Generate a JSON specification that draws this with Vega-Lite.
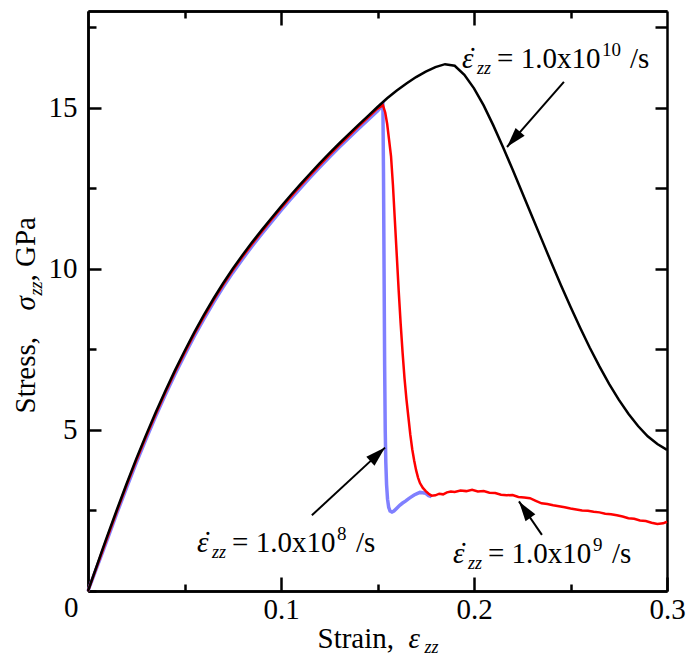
{
"$schema": "https://vega.github.io/schema/vega-lite/v6.json",
"width": 579, "height": 580,
"autosize": {"type": "none"},
"padding": {"left": 88, "top": 11, "right": 19, "bottom": 65},
"datasets": {
"curves": [
{"rate":"1e8","strain":0,"stress":0},{"rate":"1e8","strain":0.0025,"stress":0.4},{"rate":"1e8","strain":0.005,"stress":0.8},{"rate":"1e8","strain":0.0075,"stress":1.2},{"rate":"1e8","strain":0.01,"stress":1.6},{"rate":"1e8","strain":0.015,"stress":2.42},{"rate":"1e8","strain":0.02,"stress":3.21},{"rate":"1e8","strain":0.025,"stress":3.98},{"rate":"1e8","strain":0.03,"stress":4.71},{"rate":"1e8","strain":0.035,"stress":5.41},{"rate":"1e8","strain":0.04,"stress":6.08},{"rate":"1e8","strain":0.045,"stress":6.72},{"rate":"1e8","strain":0.05,"stress":7.32},{"rate":"1e8","strain":0.055,"stress":7.9},{"rate":"1e8","strain":0.06,"stress":8.44},{"rate":"1e8","strain":0.065,"stress":8.95},{"rate":"1e8","strain":0.07,"stress":9.43},{"rate":"1e8","strain":0.075,"stress":9.88},{"rate":"1e8","strain":0.08,"stress":10.3},{"rate":"1e8","strain":0.085,"stress":10.7},{"rate":"1e8","strain":0.09,"stress":11.08},{"rate":"1e8","strain":0.095,"stress":11.45},{"rate":"1e8","strain":0.1,"stress":11.81},{"rate":"1e8","strain":0.105,"stress":12.16},{"rate":"1e8","strain":0.11,"stress":12.5},{"rate":"1e8","strain":0.115,"stress":12.83},{"rate":"1e8","strain":0.12,"stress":13.15},{"rate":"1e8","strain":0.125,"stress":13.46},{"rate":"1e8","strain":0.13,"stress":13.76},{"rate":"1e8","strain":0.135,"stress":14.05},{"rate":"1e8","strain":0.14,"stress":14.34},{"rate":"1e8","strain":0.145,"stress":14.62},{"rate":"1e8","strain":0.15,"stress":14.9},{"rate":"1e8","strain":0.1528,"stress":15.08},{"rate":"1e8","strain":0.1531,"stress":13.0},{"rate":"1e8","strain":0.1534,"stress":10.0},{"rate":"1e8","strain":0.1537,"stress":7.0},{"rate":"1e8","strain":0.154,"stress":5.0},{"rate":"1e8","strain":0.1543,"stress":4.0},{"rate":"1e8","strain":0.1547,"stress":3.3},{"rate":"1e8","strain":0.1552,"stress":2.85},{"rate":"1e8","strain":0.1558,"stress":2.6},{"rate":"1e8","strain":0.1565,"stress":2.48},{"rate":"1e8","strain":0.1575,"stress":2.45},{"rate":"1e8","strain":0.1585,"stress":2.48},{"rate":"1e8","strain":0.16,"stress":2.57},{"rate":"1e8","strain":0.1615,"stress":2.66},{"rate":"1e8","strain":0.163,"stress":2.73},{"rate":"1e8","strain":0.1645,"stress":2.79},{"rate":"1e8","strain":0.166,"stress":2.86},{"rate":"1e8","strain":0.1675,"stress":2.92},{"rate":"1e8","strain":0.169,"stress":2.98},{"rate":"1e8","strain":0.1705,"stress":3.02},{"rate":"1e8","strain":0.172,"stress":3.06},{"rate":"1e8","strain":0.1735,"stress":3.05},{"rate":"1e8","strain":0.175,"stress":3.03},{"rate":"1e8","strain":0.1765,"stress":2.96},{"rate":"1e8","strain":0.178,"stress":2.93},
{"rate":"1e9","strain":0,"stress":0},{"rate":"1e9","strain":0.005,"stress":0.83},{"rate":"1e9","strain":0.01,"stress":1.66},{"rate":"1e9","strain":0.015,"stress":2.48},{"rate":"1e9","strain":0.02,"stress":3.28},{"rate":"1e9","strain":0.025,"stress":4.05},{"rate":"1e9","strain":0.03,"stress":4.78},{"rate":"1e9","strain":0.035,"stress":5.48},{"rate":"1e9","strain":0.04,"stress":6.15},{"rate":"1e9","strain":0.045,"stress":6.79},{"rate":"1e9","strain":0.05,"stress":7.39},{"rate":"1e9","strain":0.055,"stress":7.97},{"rate":"1e9","strain":0.06,"stress":8.51},{"rate":"1e9","strain":0.065,"stress":9.02},{"rate":"1e9","strain":0.07,"stress":9.5},{"rate":"1e9","strain":0.075,"stress":9.95},{"rate":"1e9","strain":0.08,"stress":10.37},{"rate":"1e9","strain":0.085,"stress":10.77},{"rate":"1e9","strain":0.09,"stress":11.15},{"rate":"1e9","strain":0.095,"stress":11.52},{"rate":"1e9","strain":0.1,"stress":11.88},{"rate":"1e9","strain":0.105,"stress":12.23},{"rate":"1e9","strain":0.11,"stress":12.57},{"rate":"1e9","strain":0.115,"stress":12.9},{"rate":"1e9","strain":0.12,"stress":13.22},{"rate":"1e9","strain":0.125,"stress":13.53},{"rate":"1e9","strain":0.13,"stress":13.83},{"rate":"1e9","strain":0.135,"stress":14.12},{"rate":"1e9","strain":0.14,"stress":14.41},{"rate":"1e9","strain":0.145,"stress":14.69},{"rate":"1e9","strain":0.15,"stress":14.97},{"rate":"1e9","strain":0.1528,"stress":15.08},{"rate":"1e9","strain":0.154,"stress":14.85},{"rate":"1e9","strain":0.155,"stress":14.5},{"rate":"1e9","strain":0.156,"stress":14.0},{"rate":"1e9","strain":0.157,"stress":13.5},{"rate":"1e9","strain":0.158,"stress":12.6},{"rate":"1e9","strain":0.159,"stress":11.5},{"rate":"1e9","strain":0.16,"stress":10.4},{"rate":"1e9","strain":0.161,"stress":9.3},{"rate":"1e9","strain":0.162,"stress":8.3},{"rate":"1e9","strain":0.163,"stress":7.4},{"rate":"1e9","strain":0.164,"stress":6.6},{"rate":"1e9","strain":0.165,"stress":5.95},{"rate":"1e9","strain":0.166,"stress":5.4},{"rate":"1e9","strain":0.167,"stress":4.85},{"rate":"1e9","strain":0.168,"stress":4.4},{"rate":"1e9","strain":0.169,"stress":4.05},{"rate":"1e9","strain":0.17,"stress":3.75},{"rate":"1e9","strain":0.171,"stress":3.52},{"rate":"1e9","strain":0.172,"stress":3.35},{"rate":"1e9","strain":0.1735,"stress":3.2},{"rate":"1e9","strain":0.175,"stress":3.1},{"rate":"1e9","strain":0.1765,"stress":3.02},{"rate":"1e9","strain":0.178,"stress":2.96},{"rate":"1e9","strain":0.18,"stress":2.97},{"rate":"1e9","strain":0.182,"stress":3.02},{"rate":"1e9","strain":0.184,"stress":3.0},{"rate":"1e9","strain":0.186,"stress":3.06},{"rate":"1e9","strain":0.188,"stress":3.09},{"rate":"1e9","strain":0.19,"stress":3.07},{"rate":"1e9","strain":0.193,"stress":3.12},{"rate":"1e9","strain":0.196,"stress":3.1},{"rate":"1e9","strain":0.199,"stress":3.14},{"rate":"1e9","strain":0.202,"stress":3.09},{"rate":"1e9","strain":0.205,"stress":3.1},{"rate":"1e9","strain":0.208,"stress":3.05},{"rate":"1e9","strain":0.211,"stress":3.04},{"rate":"1e9","strain":0.214,"stress":2.99},{"rate":"1e9","strain":0.217,"stress":2.97},{"rate":"1e9","strain":0.22,"stress":2.98},{"rate":"1e9","strain":0.223,"stress":2.92},{"rate":"1e9","strain":0.226,"stress":2.9},{"rate":"1e9","strain":0.229,"stress":2.88},{"rate":"1e9","strain":0.232,"stress":2.8},{"rate":"1e9","strain":0.235,"stress":2.72},{"rate":"1e9","strain":0.238,"stress":2.7},{"rate":"1e9","strain":0.241,"stress":2.66},{"rate":"1e9","strain":0.244,"stress":2.63},{"rate":"1e9","strain":0.247,"stress":2.6},{"rate":"1e9","strain":0.25,"stress":2.56},{"rate":"1e9","strain":0.253,"stress":2.53},{"rate":"1e9","strain":0.256,"stress":2.5},{"rate":"1e9","strain":0.259,"stress":2.49},{"rate":"1e9","strain":0.262,"stress":2.46},{"rate":"1e9","strain":0.265,"stress":2.44},{"rate":"1e9","strain":0.268,"stress":2.4},{"rate":"1e9","strain":0.271,"stress":2.38},{"rate":"1e9","strain":0.274,"stress":2.35},{"rate":"1e9","strain":0.277,"stress":2.31},{"rate":"1e9","strain":0.28,"stress":2.26},{"rate":"1e9","strain":0.283,"stress":2.24},{"rate":"1e9","strain":0.286,"stress":2.19},{"rate":"1e9","strain":0.289,"stress":2.17},{"rate":"1e9","strain":0.292,"stress":2.12},{"rate":"1e9","strain":0.295,"stress":2.08},{"rate":"1e9","strain":0.298,"stress":2.1},{"rate":"1e9","strain":0.3,"stress":2.15},
{"rate":"1e10","strain":0,"stress":0},{"rate":"1e10","strain":0.0025,"stress":0.43},{"rate":"1e10","strain":0.005,"stress":0.86},{"rate":"1e10","strain":0.0075,"stress":1.29},{"rate":"1e10","strain":0.01,"stress":1.71},{"rate":"1e10","strain":0.015,"stress":2.53},{"rate":"1e10","strain":0.02,"stress":3.33},{"rate":"1e10","strain":0.025,"stress":4.1},{"rate":"1e10","strain":0.03,"stress":4.83},{"rate":"1e10","strain":0.035,"stress":5.53},{"rate":"1e10","strain":0.04,"stress":6.2},{"rate":"1e10","strain":0.045,"stress":6.84},{"rate":"1e10","strain":0.05,"stress":7.44},{"rate":"1e10","strain":0.055,"stress":8.02},{"rate":"1e10","strain":0.06,"stress":8.56},{"rate":"1e10","strain":0.065,"stress":9.07},{"rate":"1e10","strain":0.07,"stress":9.55},{"rate":"1e10","strain":0.075,"stress":10.0},{"rate":"1e10","strain":0.08,"stress":10.42},{"rate":"1e10","strain":0.085,"stress":10.82},{"rate":"1e10","strain":0.09,"stress":11.2},{"rate":"1e10","strain":0.095,"stress":11.57},{"rate":"1e10","strain":0.1,"stress":11.93},{"rate":"1e10","strain":0.105,"stress":12.28},{"rate":"1e10","strain":0.11,"stress":12.62},{"rate":"1e10","strain":0.115,"stress":12.95},{"rate":"1e10","strain":0.12,"stress":13.27},{"rate":"1e10","strain":0.125,"stress":13.58},{"rate":"1e10","strain":0.13,"stress":13.88},{"rate":"1e10","strain":0.135,"stress":14.17},{"rate":"1e10","strain":0.14,"stress":14.46},{"rate":"1e10","strain":0.145,"stress":14.74},{"rate":"1e10","strain":0.15,"stress":15.02},{"rate":"1e10","strain":0.155,"stress":15.29},{"rate":"1e10","strain":0.16,"stress":15.53},{"rate":"1e10","strain":0.165,"stress":15.75},{"rate":"1e10","strain":0.17,"stress":15.95},{"rate":"1e10","strain":0.175,"stress":16.12},{"rate":"1e10","strain":0.18,"stress":16.26},{"rate":"1e10","strain":0.185,"stress":16.35},{"rate":"1e10","strain":0.19,"stress":16.3},{"rate":"1e10","strain":0.195,"stress":16.02},{"rate":"1e10","strain":0.2,"stress":15.6},{"rate":"1e10","strain":0.205,"stress":15.07},{"rate":"1e10","strain":0.21,"stress":14.45},{"rate":"1e10","strain":0.215,"stress":13.78},{"rate":"1e10","strain":0.22,"stress":13.08},{"rate":"1e10","strain":0.225,"stress":12.36},{"rate":"1e10","strain":0.23,"stress":11.64},{"rate":"1e10","strain":0.235,"stress":10.92},{"rate":"1e10","strain":0.24,"stress":10.2},{"rate":"1e10","strain":0.245,"stress":9.5},{"rate":"1e10","strain":0.25,"stress":8.82},{"rate":"1e10","strain":0.255,"stress":8.17},{"rate":"1e10","strain":0.26,"stress":7.55},{"rate":"1e10","strain":0.265,"stress":6.97},{"rate":"1e10","strain":0.27,"stress":6.43},{"rate":"1e10","strain":0.275,"stress":5.94},{"rate":"1e10","strain":0.28,"stress":5.5},{"rate":"1e10","strain":0.285,"stress":5.12},{"rate":"1e10","strain":0.29,"stress":4.8},{"rate":"1e10","strain":0.295,"stress":4.56},{"rate":"1e10","strain":0.3,"stress":4.38}
],
"arrows": [
{"rate":"1e10","strain":0.2466,"stress":15.8,"strain2":0.2171,"stress2":13.78},
{"rate":"1e8","strain":0.116,"stress":2.35,"strain2":0.1539,"stress2":4.45},
{"rate":"1e9","strain":0.2352,"stress":1.74,"strain2":0.2233,"stress2":2.78}
],
"notes": [
{"rate":"1e10","strain":0.1938,"stress":16.23,"sup":"10"},
{"rate":"1e8","strain":0.0565,"stress":1.21,"sup":"8"},
{"rate":"1e9","strain":0.1891,"stress":0.87,"sup":"9"}
]
},
"config": {
"font": "Liberation Serif",
"view": {"stroke": null},
"axis": {"grid": false, "domainColor": "#000000", "domainWidth": 2.5, "tickColor": "#000000", "tickWidth": 2.5, "labelFont": "Liberation Serif", "labelFontSize": 29, "labelColor": "#000000", "labelFlush": false, "labelOverlap": false, "titleFont": "Liberation Serif", "titleFontSize": 29, "titleColor": "#000000", "titleFontWeight": "normal"},
"text": {"font": "Liberation Serif", "fontSize": 29, "color": "#000000"}
},
"resolve": {"axis": {"x": "independent", "y": "independent"}},
"layer": [
{"data": {"name": "curves"}, "transform": [{"filter": "datum.rate == '1e8'"}],
 "mark": {"type": "line", "color": "#8080ff", "strokeWidth": 3.5},
 "encoding": {"x": {"field": "strain", "type": "quantitative", "scale": {"domain": [0, 0.3], "nice": false}, "axis": null},
  "y": {"field": "stress", "type": "quantitative", "scale": {"domain": [0, 18], "nice": false}, "axis": null}}},
{"data": {"name": "curves"}, "transform": [{"filter": "datum.rate == '1e9'"}],
 "mark": {"type": "line", "color": "#ff0000", "strokeWidth": 2.5},
 "encoding": {"x": {"field": "strain", "type": "quantitative", "axis": null},
  "y": {"field": "stress", "type": "quantitative", "axis": null}}},
{"data": {"name": "curves"}, "transform": [{"filter": "datum.rate == '1e10'"}],
 "mark": {"type": "line", "color": "#000000", "strokeWidth": 2.5},
 "encoding": {"x": {"field": "strain", "type": "quantitative",
   "axis": {"orient": "bottom", "values": [0.1, 0.2, 0.3], "tickSize": -14, "labelPadding": 18, "format": ".1f", "labelFont": "Liberation Serif", "titleFont": "Liberation Serif", "title": "Strain,", "titleX": 229, "titleY": 56, "titleAlign": "left", "titleBaseline": "alphabetic", "titleAnchor": "start"}},
  "y": {"field": "stress", "type": "quantitative",
   "axis": {"orient": "left", "values": [5, 10, 15], "tickSize": -13, "labelPadding": 24, "format": "d", "labelFont": "Liberation Serif", "titleFont": "Liberation Serif", "title": "Stress,", "titleX": -54, "titleY": 402, "titleAngle": 270, "titleAlign": "left", "titleBaseline": "alphabetic", "titleAnchor": "start"}}}},
{"data": {"name": "arrows"},
 "mark": {"type": "rule", "color": "#000000", "strokeWidth": 2},
 "encoding": {"x": {"field": "strain", "type": "quantitative",
   "axis": {"orient": "bottom", "values": [0.05, 0.15, 0.25], "tickSize": -7, "labels": false, "title": null}},
  "x2": {"field": "strain2"},
  "y": {"field": "stress", "type": "quantitative",
   "axis": {"orient": "left", "values": [0, 2.5, 7.5, 12.5, 17.5], "tickSize": -8, "labelExpr": "datum.value == 0 ? '0' : ''", "labelFont": "Liberation Serif", "labelPadding": 18, "labelOffset": 16, "title": null}},
  "y2": {"field": "stress2"}}},
{"data": {"name": "arrows"},
 "mark": {"type": "point", "shape": "M0,0L-0.3,1L0.3,1Z", "filled": true, "color": "#000000", "opacity": 1, "size": 1600, "strokeWidth": 0},
 "encoding": {"x": {"field": "strain2", "type": "quantitative",
   "axis": {"orient": "top", "values": [0.1, 0.2], "tickSize": -14, "labels": false, "title": null}},
  "y": {"field": "stress2", "type": "quantitative",
   "axis": {"orient": "right", "values": [2.5, 5, 7.5, 10, 12.5, 15, 17.5], "tickSize": -12, "labels": false, "title": null}},
  "angle": {"field": "rate", "type": "nominal", "scale": {"type": "ordinal", "domain": ["1e10", "1e8", "1e9"], "range": [221, 47, 325]}, "legend": null}}},
{"data": {"name": "notes"},
 "mark": {"type": "text", "text": "ε", "font": "Liberation Serif", "fontStyle": "italic", "align": "left", "baseline": "alphabetic"},
 "encoding": {"x": {"field": "strain", "type": "quantitative",
   "axis": {"orient": "top", "values": [0.05, 0.15, 0.25], "tickSize": -7, "labels": false, "title": null}},
  "y": {"field": "stress", "type": "quantitative",
   "axis": {"orient": "left", "domain": false, "ticks": false, "labels": false, "title": "zz", "titleFont": "Liberation Serif", "titleFontSize": 18, "titleFontStyle": "italic", "titleX": -47, "titleY": 284, "titleAngle": 270, "titleAlign": "left", "titleBaseline": "alphabetic"}}}},
{"data": {"name": "notes"},
 "mark": {"type": "text", "text": "˙", "font": "Liberation Serif", "align": "left", "baseline": "alphabetic", "dx": 6, "dy": 0},
 "encoding": {"x": {"field": "strain", "type": "quantitative", "axis": null},
  "y": {"field": "stress", "type": "quantitative", "axis": null}}},
{"data": {"name": "notes"},
 "mark": {"type": "text", "text": "zz", "font": "Liberation Serif", "fontStyle": "italic", "fontSize": 18, "align": "left", "baseline": "alphabetic", "dx": 15, "dy": 6},
 "encoding": {"x": {"field": "strain", "type": "quantitative",
   "axis": {"orient": "bottom", "domain": false, "ticks": false, "labels": false, "title": "zz", "titleFont": "Liberation Serif", "titleFontSize": 18, "titleFontStyle": "italic", "titleX": 336, "titleY": 61, "titleAlign": "left", "titleBaseline": "alphabetic"}},
  "y": {"field": "stress", "type": "quantitative",
   "axis": {"orient": "left", "domain": false, "ticks": false, "labels": false, "title": ", GPa", "titleFont": "Liberation Serif", "titleX": -54, "titleY": 270, "titleAngle": 270, "titleAlign": "left", "titleBaseline": "alphabetic"}}}},
{"data": {"name": "notes"},
 "mark": {"type": "text", "text": "= 1.0x10", "font": "Liberation Serif", "align": "left", "baseline": "alphabetic", "dx": 35},
 "encoding": {"x": {"field": "strain", "type": "quantitative",
   "axis": {"orient": "bottom", "domain": false, "ticks": false, "labels": false, "title": "ε", "titleFont": "Liberation Serif", "titleFontStyle": "italic", "titleX": 320, "titleY": 56, "titleAlign": "left", "titleBaseline": "alphabetic"}},
  "y": {"field": "stress", "type": "quantitative",
   "axis": {"orient": "left", "domain": false, "ticks": false, "labels": false, "title": "σ", "titleFont": "Liberation Serif", "titleFontStyle": "italic", "titleX": -54, "titleY": 299, "titleAngle": 270, "titleAlign": "left", "titleBaseline": "alphabetic"}}}},
{"data": {"name": "notes"},
 "mark": {"type": "text", "font": "Liberation Serif", "fontSize": 19, "align": "left", "baseline": "alphabetic", "dx": 140, "dy": -12},
 "encoding": {"x": {"field": "strain", "type": "quantitative", "axis": null},
  "y": {"field": "stress", "type": "quantitative", "axis": null},
  "text": {"field": "sup"}}},
{"data": {"name": "notes"}, "transform": [{"filter": "datum.rate == '1e10'"}],
 "mark": {"type": "text", "text": "/s", "font": "Liberation Serif", "align": "left", "baseline": "alphabetic", "dx": 168},
 "encoding": {"x": {"field": "strain", "type": "quantitative", "axis": null},
  "y": {"field": "stress", "type": "quantitative", "axis": null}}},
{"data": {"name": "notes"}, "transform": [{"filter": "datum.rate != '1e10'"}],
 "mark": {"type": "text", "text": "/s", "font": "Liberation Serif", "align": "left", "baseline": "alphabetic", "dx": 159},
 "encoding": {"x": {"field": "strain", "type": "quantitative", "axis": null},
  "y": {"field": "stress", "type": "quantitative", "axis": null}}}
]
}
